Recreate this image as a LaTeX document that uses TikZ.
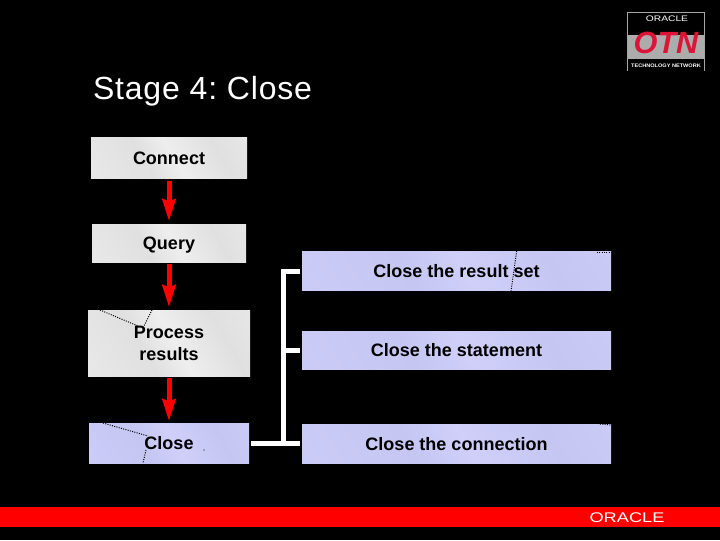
\documentclass[tikz,border=0pt]{standalone}
\usepackage{fontspec}
\setmainfont{Liberation Sans}
\usetikzlibrary{arrows.meta}
\newlength\pixel
\pixel=0.75pt
\definecolor{BoxGray}{HTML}{EEEEEE}
\definecolor{BoxGrayDark}{HTML}{E0E0E0}
\definecolor{BoxBlue}{HTML}{CFCFFA}
\definecolor{BoxBlueDark}{HTML}{C6C6F2}
\definecolor{LogoRed}{HTML}{DC1438}
\pgfdeclarehorizontalshading{grayband}{100bp}{color(0bp)=(BoxGray); color(40bp)=(BoxGrayDark); color(52bp)=(BoxGray); color(70bp)=(BoxGrayDark); color(100bp)=(BoxGray)}
\pgfdeclarehorizontalshading{blueband}{100bp}{color(0bp)=(BoxBlue); color(40bp)=(BoxBlueDark); color(52bp)=(BoxBlue); color(70bp)=(BoxBlueDark); color(100bp)=(BoxBlue)}
\frenchspacing
\begin{document}
\begin{tikzpicture}[x=0.75pt, y=-0.75pt,
      every node/.append style={inner sep=0pt, outer sep=0pt, align=center},
      step arrow/.style={draw=red, line width=5\pixel, -{Stealth[length=16.5pt, width=9.75pt, inset=1.5pt]}},
      bracket/.style={draw=white, line width=5\pixel},
      scratch/.style={draw=black, line width=0.75pt, densely dotted}]
      \tikzstyle{word} = [font=\fontsize{13.5pt}{16.5pt}\bfseries\selectfont, text=black]
      \tikzstyle{oneline} = [text height=9pt, text depth=0pt]
      \tikzstyle{graybox} = [word, shading=grayband, shading angle=30]
      \tikzstyle{bluebox} = [word, shading=blueband, shading angle=30]
      \fill[black] (0,0) rectangle (720,540);
      \node (title) [anchor=base west, text=white, font=\fontsize{24pt}{30pt}\selectfont\addfontfeature{LetterSpace=2.6}] at (93,99) {Stage 4: Close};
      % left column
      \node (connect) [graybox, oneline, minimum width=156\pixel, minimum height=41.5\pixel] at (169,158) {Connect};
      \node (query) [graybox, oneline, minimum width=154\pixel, minimum height=38.5\pixel] at (169,243.5) {Query};
      \node (process) [graybox, minimum width=162\pixel, minimum height=66.5\pixel] at (169,343.5) {Process\\results};
      \node (close) [bluebox, oneline, minimum width=160\pixel, minimum height=40.5\pixel] at (169,443.5) {Close};
      % right column
      \node (closeset) [bluebox, oneline, minimum width=309\pixel, minimum height=39.5\pixel] at (456.5,271) {Close the result set};
      \node (closestmt) [bluebox, oneline, minimum width=309\pixel, minimum height=38.5\pixel] at (456.5,350.5) {Close the statement};
      \node (closeconn) [bluebox, oneline, minimum width=309\pixel, minimum height=39.5\pixel] at (456.5,444) {Close the connection};
      \draw[step arrow, shorten <=2\pixel, shorten >=3\pixel] (connect) -- (query);
      \draw[step arrow, shorten <=1\pixel, shorten >=3\pixel] (query) -- (process);
      \draw[step arrow, shorten <=1\pixel, shorten >=2\pixel] (process) -- (close);
      % bracket
      \coordinate (barfoot) at (283,443.5);
      \draw[bracket, shorten <=2\pixel, shorten >=2\pixel] (close.east) -- (barfoot -| closeconn.west);
      \draw[bracket, shorten >=2\pixel] (barfoot) |- (closeset.west);
      \draw[bracket, shorten >=2\pixel] (barfoot |- closestmt.west) -- (closestmt.west);
      % stray dotted marks
      \draw[scratch] (100,310) -- (138,326);
      \draw[scratch] (152,310) -- (144,326);
      \draw[scratch] (103,423) -- (148,436);
      \draw[scratch] (146,450) -- (143,463);
      \draw[scratch] (516.7,251) -- (511,291);
      \draw[scratch] (597,252) -- (610,252);
      \draw[scratch] (600,424) -- (611,425);
      \fill[black] (204,450) circle (0.6\pixel);
      % footer
      \fill[red] (0,507) rectangle (720,527);
      \node (oraclefoot) [text=white, font=\fontsize{10.5pt}{12pt}\selectfont] at (627,517.5) {\scalebox{1.3}[1]{ORACLE}};
      % logo
      \draw[draw=gray!70, line width=0.5pt] (627.5,71) -- (627.5,12.5) -- (704.5,12.5) -- (704.5,71);
      \fill[gray!65] (628,35) rectangle (704,59);
      \node (logotop) [text=white, font=\fontsize{6pt}{7pt}\selectfont] at (667,18.5) {\scalebox{1.28}[1]{ORACLE}};
      \node (logootn) [text=LogoRed, font=\fontsize{23pt}{24pt}\bfseries\itshape\selectfont] at (666,43) {OTN};
      \node (logofoot) [text=white, font=\fontsize{3.8pt}{5pt}\bfseries\selectfont] at (666,66) {\scalebox{1.1}[1]{TECHNOLOGY NETWORK}};
\end{tikzpicture}
\end{document}
